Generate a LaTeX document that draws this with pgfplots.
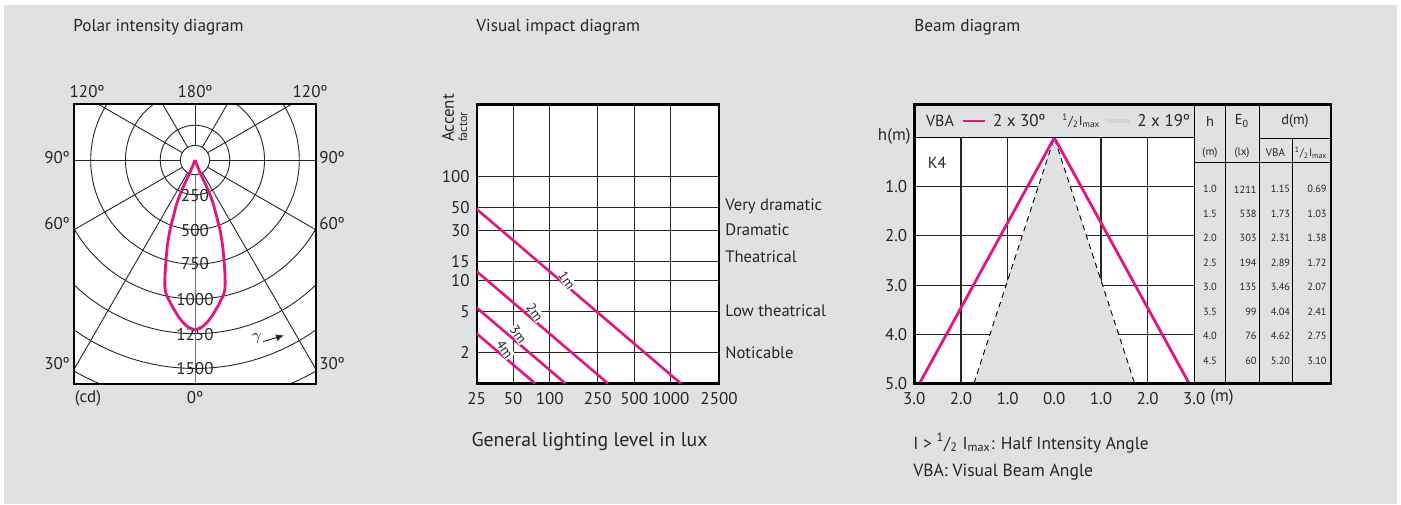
\documentclass[border=0pt]{standalone}
\usepackage{fontspec}
\setmainfont{PT Sans}
\usepackage{pgfplots}
\pgfplotsset{compat=1.18}
\usetikzlibrary{arrows.meta}
\definecolor{bg}{HTML}{E0E1E3}
\definecolor{legendgrey}{HTML}{D3D4D6}
\definecolor{mag}{HTML}{E4157F}
\newcommand{\fs}[1]{\fontsize{#1}{#1}\selectfont}
\newcommand{\half}{\textsuperscript{1}/\textsubscript{2}}

\begin{document}
\begin{tikzpicture}
\begin{scope}[x=0.5pt,y=-0.5pt]
\fill[white] (0,0) rectangle (1401,504);
\fill[bg] (4,5) rectangle (1397,504);
\end{scope}

% ---------------- Polar intensity diagram
\begin{axis}[at={(37pt,-52pt)}, anchor=north west, scale only axis,
  width=121pt, height=140pt,
  xmin=-870, xmax=870, ymin=-1612, ymax=403,
  axis on top, ticks=none, axis line style={line width=1.2pt},
  axis background/.style={fill=white}, clip=true]
  \begin{scope}[black!85, line width=0.45pt]
  \draw (axis cs:0,0) circle[radius=105];
  \draw (axis cs:0,0) circle[radius=250];
  \draw (axis cs:0,0) circle[radius=500];
  \draw (axis cs:0,0) circle[radius=750];
  \draw (axis cs:0,0) circle[radius=1000];
  \draw (axis cs:0,0) circle[radius=1250];
  \draw (axis cs:0,0) circle[radius=1500];
  \draw (axis cs:0,0) circle[radius=1750];
  \draw (axis cs:52.5,-90.9) -- (axis cs:1500,-2598);
  \draw (axis cs:-52.5,-90.9) -- (axis cs:-1500,-2598);
  \draw (axis cs:90.9,-52.5) -- (axis cs:2598,-1500);
  \draw (axis cs:-90.9,-52.5) -- (axis cs:-2598,-1500);
  \draw (axis cs:105,0) -- (axis cs:3000,0);
  \draw (axis cs:-105,0) -- (axis cs:-3000,0);
  \draw (axis cs:90.9,52.5) -- (axis cs:2598,1500);
  \draw (axis cs:-90.9,52.5) -- (axis cs:-2598,1500);
  \draw (axis cs:52.5,90.9) -- (axis cs:1500,2598);
  \draw (axis cs:-52.5,90.9) -- (axis cs:-1500,2598);
  \draw (axis cs:0,105) -- (axis cs:0,3000);
  \draw[black!55] (axis cs:0,-105) -- (axis cs:0,-3000);
  \end{scope}
  \node[font=\fs{8.5}, text=black!85] at (axis cs:0,-255) {250};
  \node[font=\fs{8.5}, text=black!85] at (axis cs:0,-505) {500};
  \node[font=\fs{8.5}, text=black!85] at (axis cs:0,-745) {750};
  \node[font=\fs{8.5}, text=black!85] at (axis cs:0,-1005) {1000};
  \node[font=\fs{8.5}, text=black!85] at (axis cs:0,-1255) {1250};
  \node[font=\fs{8.5}, text=black!85] at (axis cs:0,-1500) {1500};
  \node[font=\fs{8.5}, text=black!85] at (axis cs:444,-1283) {$\gamma$};
  \draw[-{Latex[length=4pt,width=3.5pt]}, black!85, line width=0.45pt] (axis cs:491,-1307) -- (axis cs:640,-1262);
  \addplot[mag, line width=1.4pt, smooth, tension=0.45] coordinates {
    (0,0) (28.8,-71.9) (61.2,-143.9) (97.1,-223) (129.5,-309.4) (154.7,-402.9)
    (179.9,-503.6) (197.8,-611.5) (208.6,-719.4) (215.8,-827.3) (215.8,-920.9)
    (205.0,-971.2) (183.5,-1014.4) (165.5,-1050.4) (143.9,-1086.3) (122.3,-1122.3)
    (89.9,-1165.5) (50.4,-1201.4) (0,-1223)};
  \addplot[mag, line width=1.4pt, smooth, tension=0.45] coordinates {
    (0,0) (-28.8,-71.9) (-61.2,-143.9) (-97.1,-223) (-129.5,-309.4) (-154.7,-402.9)
    (-179.9,-503.6) (-197.8,-611.5) (-208.6,-719.4) (-215.8,-827.3) (-215.8,-920.9)
    (-205.0,-971.2) (-183.5,-1014.4) (-165.5,-1050.4) (-143.9,-1086.3) (-122.3,-1122.3)
    (-89.9,-1165.5) (-50.4,-1201.4) (0,-1223)};
\end{axis}

% ---------------- Visual impact diagram
\begin{axis}[at={(238.35pt,-52.15pt)}, anchor=north west, scale only axis,
  width=121.15pt, height=139.6pt,
  xmode=log, ymode=log, xmin=25, xmax=2500, ymin=1, ymax=500,
  xtick={25,50,100,250,500,1000,2500}, xticklabels={25,50,100,250,500,1000,2500},
  ytick={2,5,10,15,30,50,100}, yticklabels={2,5,10,15,30,50,100},
  minor xtick={}, minor ytick={},
  grid=major, major grid style={black!85, line width=0.55pt},
  major tick length=0pt, tick style={draw=none},
  axis line style={line width=1.2pt},
  axis background/.style={fill=white},
  tick label style={font=\fs{8.5}, text=black!85},
  xticklabel style={yshift=-1pt},
  /pgf/number format/assume math mode=true]
  \addplot[mag, line width=1.3pt] coordinates {(25,48.44) (1211,1)};
  \addplot[mag, line width=1.3pt] coordinates {(25,12.12) (303,1)};
  \addplot[mag, line width=1.3pt] coordinates {(25,5.40) (135,1)};
  \addplot[mag, line width=1.3pt] coordinates {(25,3.04) (76,1)};
  \node[font=\fs{6.8}, fill=white, inner sep=0.3pt, rotate=-55, text=black!85] at (axis cs:139,10.0) {1m};
  \node[font=\fs{6.8}, fill=white, inner sep=0.3pt, rotate=-55, text=black!85] at (axis cs:75.7,4.9) {2m};
  \node[font=\fs{6.8}, fill=white, inner sep=0.3pt, rotate=-55, text=black!85] at (axis cs:55.1,3.0) {3m};
  \node[font=\fs{6.8}, fill=white, inner sep=0.3pt, rotate=-55, text=black!85] at (axis cs:42.8,2.15) {4m};
\end{axis}

% ---------------- Beam diagram
\begin{axis}[at={(457.15pt,-68.85pt)}, anchor=north west, scale only axis,
  width=140pt, height=122.8pt,
  xmin=-3, xmax=3, ymin=0, ymax=5, y dir=reverse,
  xtick={-3,-2,-1,0,1,2,3}, xticklabels={3.0,2.0,1.0,0.0,1.0,2.0,3.0},
  ytick={1,2,3,4,5}, yticklabels={1.0,2.0,3.0,4.0,5.0},
  grid=major, major grid style={black!85, line width=0.55pt},
  major tick length=0pt, tick style={draw=none},
  axis line style={line width=0.6pt},
  axis background/.style={fill=white},
  tick label style={font=\fs{8.5}, text=black!85},
  xticklabel style={yshift=-1pt},
  /pgf/number format/assume math mode=true]
  \addplot[fill=bg, draw=none] coordinates {(-1.722,5) (0,0) (1.722,5) (-1.722,5)};
  \addplot[black, line width=0.45pt, dash pattern=on 2.8pt off 2.2pt] coordinates {(-1.722,5) (0,0) (1.722,5)};
  \addplot[mag, line width=1.4pt] coordinates {(-2.887,5) (0,0) (2.887,5)};
\end{axis}

\begin{scope}[x=0.5pt,y=-0.5pt]
% titles
\node[font=\fs{8.6}, anchor=west, inner sep=0pt, text=black!85] at (73,27) {Polar intensity diagram};
\node[font=\fs{8.6}, anchor=west, inner sep=0pt, text=black!85] at (476,27) {Visual impact diagram};
\node[font=\fs{8.6}, anchor=west, inner sep=0pt, text=black!85] at (914,27) {Beam diagram};

% polar outer labels
\begin{scope}[every node/.style={font=\fs{8.5}, text=black!85}]
\node at (87,92) {120º};
\node at (195,92) {180º};
\node at (310,92) {120º};
\node at (57,158) {90º};
\node at (332,158) {90º};
\node at (57,224) {60º};
\node at (332,224) {60º};
\node at (57,364) {30º};
\node at (332,364) {30º};
\node at (88,398) {(cd)};
\node at (195,398) {0º};
\end{scope}

% visual impact labels
\node[font=\fs{8.5}, rotate=90, anchor=west, text=black!85] at (448,149) {Accent};
\node[font=\fs{6}, rotate=90, anchor=west, text=black!85] at (463,149) {factor};
\begin{scope}[every node/.style={font=\fs{8.3}, anchor=west, inner sep=0pt, text=black!85}]
\node at (725,206.7) {Very dramatic};
\node at (725,230) {Dramatic};
\node at (725,257) {Theatrical};
\node at (725,311) {Low theatrical};
\node at (725,352.7) {Noticable};
\end{scope}
\node[font=\fs{9.9}, text=black!85] at (589.5,442) {General lighting level in lux};

% beam frame, header, table
\draw[line width=1.2pt] (914.3,104.3) rectangle (1331,383.3);
\draw[line width=0.6pt] (914.3,137.7) -- (1194.3,137.7);
\draw[line width=0.6pt] (1194.3,104.3) -- (1194.3,383.3);
\draw[line width=0.5pt] (1225,104.3) -- (1225,383.3);
\draw[line width=0.5pt] (1259,104.3) -- (1259,383.3);
\draw[line width=0.5pt] (1292.5,138.3) -- (1292.5,383.3);
\draw[line width=0.5pt] (1259,138.3) -- (1331,138.3);
\draw[line width=0.5pt] (1194.3,162.7) -- (1331,162.7);

\node[font=\fs{8}, text=black!85] at (940,121) {VBA};
\draw[mag, line width=1.4pt] (963.3,121) -- (985,121);
\node[font=\fs{8.5}, anchor=west, inner sep=0pt, text=black!85] at (992.7,121) {2 x 30º};
\node[font=\fs{6.5}, anchor=west, inner sep=0pt, text=black!85] at (1062,121) {\half I\textsubscript{max}};
\draw[legendgrey, line width=2.3pt] (1106.7,121) -- (1130,121);
\node[font=\fs{8.5}, anchor=west, inner sep=0pt, text=black!85] at (1137,121) {2 x 19º};
\node[font=\fs{8}, text=black!85] at (937,163.3) {K4};
\node[font=\fs{8.5}, anchor=east, inner sep=0pt, text=black!85] at (911,136) {h(m)};
\node[font=\fs{8.5}, anchor=west, inner sep=0pt, text=black!85] at (1210,397) {(m)};

\node[font=\fs{7.2}, text=black!85] at (1210,121) {h};
\node[font=\fs{7.2}, text=black!85] at (1242,121) {E\textsubscript{0}};
\node[font=\fs{7.2}, text=black!85] at (1295,121) {d(m)};
\node[font=\fs{5.5}, text=black!85] at (1210,153) {(m)};
\node[font=\fs{5.5}, text=black!85] at (1242,153) {(lx)};
\node[font=\fs{5.5}, text=black!85] at (1275.5,153) {VBA};
\node[font=\fs{5.5}, text=black!85] at (1311,153) {\half I\textsubscript{max}};

\foreach \yy/\h/\e/\v/\d in {189.3/1.0/1211/1.15/0.69, 213.7/1.5/538/1.73/1.03,
  238.2/2.0/303/2.31/1.38, 262.6/2.5/194/2.89/1.72, 287.1/3.0/135/3.46/2.07,
  311.5/3.5/99/4.04/2.41, 336.0/4.0/76/4.62/2.75, 360.4/4.5/60/5.20/3.10} {
  \node[font=\fs{5.2}, text=black!85] at (1210,\yy) {\h};
  \node[font=\fs{5.2}, anchor=east, inner sep=0pt, text=black!85] at (1257,\yy) {\e};
  \node[font=\fs{5.2}, anchor=east, inner sep=0pt, text=black!85] at (1290.5,\yy) {\v};
  \node[font=\fs{5.2}, anchor=east, inner sep=0pt, text=black!85] at (1327,\yy) {\d};
}

\node[font=\fs{8.7}, anchor=west, inner sep=0pt, text=black!85] at (913,443) {I > \half{} I\textsubscript{max}: Half Intensity Angle};
\node[font=\fs{8.8}, anchor=west, inner sep=0pt, text=black!85] at (913,471.7) {VBA: Visual Beam Angle};
\end{scope}
\end{tikzpicture}
\end{document}
